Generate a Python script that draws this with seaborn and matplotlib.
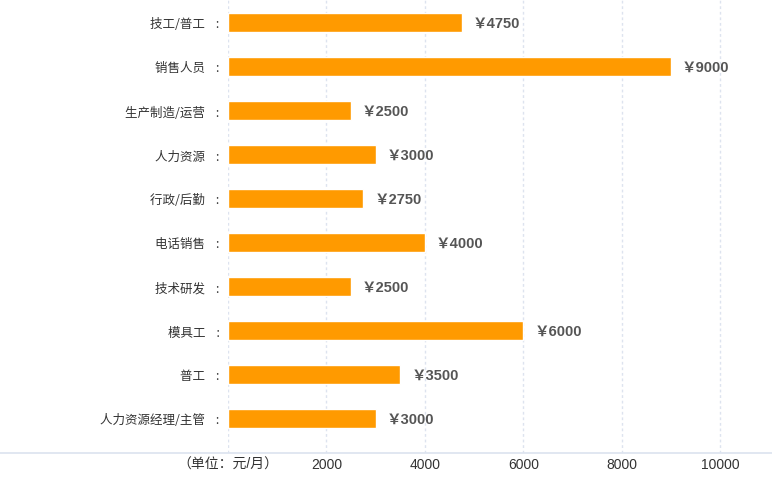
import matplotlib
matplotlib.use("Agg")
import matplotlib.pyplot as plt
from matplotlib.lines import Line2D
import seaborn as sns
import pandas as pd

categories = ["技工/普工", "销售人员", "生产制造/运营", "人力资源", "行政/后勤",
              "电话销售", "技术研发", "模具工", "普工", "人力资源经理/主管"]
salaries = [4750, 9000, 2500, 3000, 2750, 4000, 2500, 6000, 3500, 3000]
tick_values = [0, 2000, 4000, 6000, 8000, 10000]
tick_labels = ["（单位：元/月）", "2000", "4000", "6000", "8000", "10000"]

sns.set_theme(style="white")
plt.rcParams["font.family"] = ["Noto Sans CJK SC", "DejaVu Sans"]

W, H = 772, 485
fig = plt.figure(figsize=(W / 100, H / 100), dpi=100)
x0, x1, ytop, ybot = 228, 772, 0, 454
ax = fig.add_axes([x0 / W, (H - ybot) / H, (x1 - x0) / W, (ybot - ytop) / H])

df = pd.DataFrame({"category": [c + "    :" for c in categories], "salary": salaries})
sns.barplot(data=df, x="salary", y="category", color="#FF9A00", saturation=1,
            width=0.43, ax=ax, orient="h")

# scale: 0 at px 228, 9000 at px 671
px_per_unit = (671 - 228) / 9000
ax.set_xlim(0, (x1 - x0) / px_per_unit)
ax.set_ylim(9.5 + 12.5 / 44, -0.5 - 1.5 / 44)

ax.set_xticks(tick_values)
ax.set_xticklabels(tick_labels)
ax.set_xlabel("")
ax.set_ylabel("")
ax.tick_params(axis="x", length=0, pad=3, labelsize=10, labelcolor="#333333")
ax.tick_params(axis="y", length=0, pad=6, labelsize=9, labelcolor="#333333")
for lab in ax.get_xticklabels():
    lab.set_fontfamily(["Liberation Sans", "Noto Sans CJK SC"])

ax.xaxis.grid(True, linestyle=(0, (2, 2)), color="#dde3ef", linewidth=1)
ax.yaxis.grid(False)
ax.set_axisbelow(True)
for s in ax.spines.values():
    s.set_visible(False)

ax.bar_label(ax.containers[0], labels=[f"￥{v}" for v in salaries], padding=8,
             fontsize=10.5, fontweight="bold", color="#555555",
             fontfamily=["Liberation Sans", "Noto Sans CJK SC"])

fig.add_artist(Line2D([0, 1], [(H - ybot) / H] * 2, transform=fig.transFigure,
                      color="#dce3ef", linewidth=1.2))

fig.savefig("out.png", dpi=100)
